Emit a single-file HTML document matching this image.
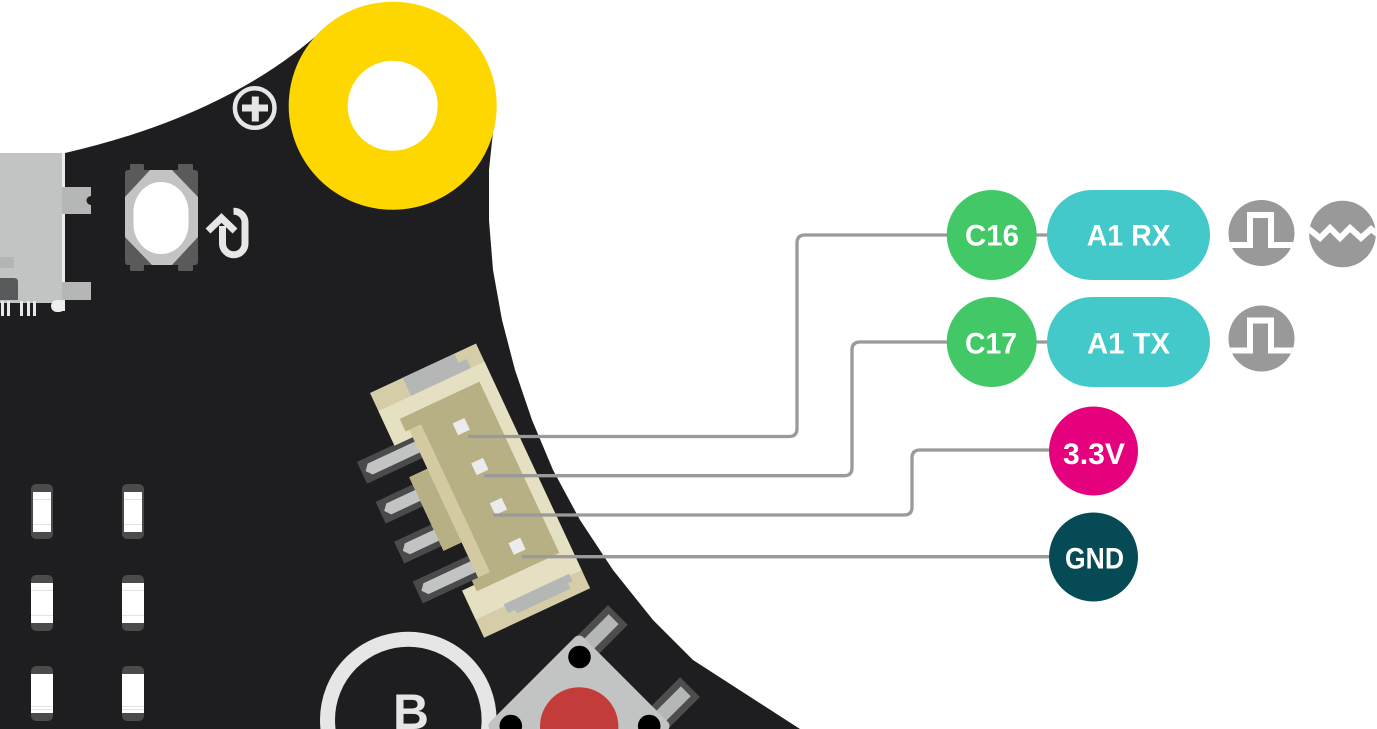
<!DOCTYPE html>
<html><head><meta charset="utf-8"><style>
html,body{margin:0;padding:0;background:#fff;width:1377px;height:729px;overflow:hidden;}
svg{display:block;overflow:hidden;}
text{font-family:"Liberation Sans Narrow","Liberation Sans",sans-serif;font-weight:bold;fill:#fff;}
</style></head><body>
<svg width="1377" height="729" viewBox="0 0 1377 729" xmlns="http://www.w3.org/2000/svg">
<defs>
<clipPath id="page"><rect x="0" y="0" width="1377" height="729"/></clipPath>
<clipPath id="sq1"><circle cx="1261.5" cy="233" r="33"/></clipPath>
<clipPath id="sq2"><circle cx="1261.5" cy="338.5" r="33"/></clipPath>
<clipPath id="wv"><circle cx="1342.5" cy="234" r="33.3"/></clipPath>
</defs>
<g clip-path="url(#page)">
<rect width="1377" height="729" fill="#fff"/>
<!-- board -->
<path d="M0,165 L65,153 Q230,115 325,28 L400,10 L470,45 L493,132 L489,170 L489,220 L493,270 L502,320 L515,370 L532,420 L553,470 L580,520 L613,570 L653,620 L693,660 L755,700 L800,729 L0,729 Z" fill="#1e1e20"/>
<circle cx="392.7" cy="105.8" r="104" fill="#fed700"/>
<circle cx="392.7" cy="105.8" r="45" fill="#fff"/>
<!-- plus icon -->
<circle cx="254.7" cy="108" r="19.8" fill="none" stroke="#e6e6e6" stroke-width="4.5"/>
<rect x="242" y="104.5" width="26" height="7" fill="#e6e6e6"/>
<rect x="251.8" y="96.5" width="7" height="25" fill="#e6e6e6"/>
<!-- USB connector -->
<rect x="62" y="153" width="3" height="158" fill="#ececec"/>
<rect x="0" y="153" width="62" height="150" fill="#c2c4c4"/>
<path d="M62,187 H91 V196 A4.5,4.5 0 0 0 91,205 V214 H62 Z" fill="#b5b6b6"/>
<rect x="62" y="282" width="29" height="18" fill="#b5b6b6"/>
<rect x="0" y="257" width="14" height="11" fill="#b3b4b4"/>
<path d="M0,278 H14 Q18,278 18,282 V300 H0 Z" fill="#58595a"/>
<rect x="1" y="301" width="3" height="15" fill="#e8e8e8"/>
<rect x="7" y="301" width="3" height="15" fill="#e8e8e8"/>
<rect x="20" y="301" width="3" height="15" fill="#e8e8e8"/>
<rect x="27" y="301" width="3" height="15" fill="#e8e8e8"/>
<rect x="33" y="301" width="3" height="15" fill="#e8e8e8"/>
<rect x="51" y="300" width="14" height="12" rx="6" fill="#eeeeee"/>
<!-- reset button -->
<rect x="130" y="164" width="14" height="9" rx="1.5" fill="#5a5a5b"/>
<rect x="178" y="164" width="15" height="9" rx="1.5" fill="#5a5a5b"/>
<rect x="130" y="262" width="14" height="9" rx="1.5" fill="#5a5a5b"/>
<rect x="178" y="262" width="15" height="9" rx="1.5" fill="#5a5a5b"/>
<rect x="125" y="170" width="73" height="95" rx="3" fill="#5a5a5b"/>
<polygon points="150,170 172,170 198,197 198,237 172,265 152,265 125,237 125,197" fill="#c2c4c4"/>
<rect x="133.5" y="182" width="55" height="72" rx="27.5" ry="30" fill="#fff"/>
<!-- reset icon -->
<path d="M222.5,226 V243.5 A11.25,11.25 0 0 0 245,243.5 V222.5 A11.25,11.25 0 0 0 233.5,211.2" fill="none" stroke="#e6e6e6" stroke-width="7"/>
<polyline points="208,231 221.5,218 235,231" fill="none" stroke="#e6e6e6" stroke-width="7"/>
<!-- LEDs -->
<g fill="#4b4b4c">
<rect x="31" y="484" width="22" height="55" rx="5"/>
<rect x="122" y="484" width="22" height="55" rx="5"/>
<rect x="31" y="575" width="22" height="56" rx="5"/>
<rect x="122" y="575" width="22" height="56" rx="5"/>
<rect x="31" y="666" width="22" height="55" rx="5"/>
<rect x="122" y="666" width="22" height="55" rx="5"/>
</g>
<g fill="#fff">
<rect x="33" y="492" width="18" height="40"/>
<rect x="124" y="492" width="18" height="40"/>
<rect x="31" y="583" width="22" height="40"/>
<rect x="122" y="583" width="22" height="40"/>
<rect x="31" y="674" width="22" height="39"/>
<rect x="122" y="674" width="22" height="39"/>
</g>
<g fill="#e2e2e2">
<rect x="33" y="499" width="18" height="1"/><rect x="33" y="524" width="18" height="1"/>
<rect x="124" y="499" width="18" height="1"/><rect x="124" y="524" width="18" height="1"/>
<rect x="31" y="590" width="22" height="1"/><rect x="31" y="615" width="22" height="1"/>
<rect x="122" y="590" width="22" height="1"/><rect x="122" y="615" width="22" height="1"/>
<rect x="31" y="706" width="22" height="1"/><rect x="31" y="709" width="22" height="1"/>
<rect x="122" y="706" width="22" height="1"/><rect x="122" y="709" width="22" height="1"/>
</g>
<!-- B button -->
<circle cx="408.3" cy="720" r="80.8" fill="none" stroke="#e6e6e6" stroke-width="15"/>
<text x="411" y="729" font-size="50" text-anchor="middle" textLength="36" lengthAdjust="spacingAndGlyphs" style="fill:#e6e6e6">B</text>
<!-- red button -->
<g transform="translate(579,726) rotate(45)">
<rect x="-65" y="-106" width="28" height="50" fill="#4d4d4e"/>
<rect x="-58" y="-100" width="14" height="44" fill="#b5b6b6"/>
<rect x="37" y="-106" width="28" height="50" fill="#4d4d4e"/>
<rect x="44" y="-100" width="14" height="44" fill="#b5b6b6"/>
<rect x="-65.75" y="-65.75" width="131.5" height="131.5" rx="6" fill="#c2c4c4"/>
</g>
<circle cx="579.2" cy="726.5" r="39.2" fill="#c43c3a"/>
<circle cx="579.5" cy="657" r="11.3" fill="#000"/>
<circle cx="510.8" cy="726" r="11.3" fill="#000"/>
<circle cx="649.2" cy="726" r="11.3" fill="#000"/>
<!-- JST connector -->
<g transform="translate(370,393) rotate(-25)">
<g>
<rect x="-41" y="57" width="63" height="24" fill="#4a4a4c"/>
<path d="M-37,69 L-32,63 H22 V75 H-32 Z" fill="#c2c4c4"/>
<rect x="-41" y="101" width="63" height="24" fill="#4a4a4c"/>
<path d="M-37,113 L-32,107 H22 V119 H-32 Z" fill="#c2c4c4"/>
<rect x="-41" y="145" width="63" height="24" fill="#4a4a4c"/>
<path d="M-37,157 L-32,151 H22 V163 H-32 Z" fill="#c2c4c4"/>
<rect x="-41" y="189" width="63" height="24" fill="#4a4a4c"/>
<path d="M-37,201 L-32,195 H22 V207 H-32 Z" fill="#c2c4c4"/>
</g>
<path d="M0,0 H117 V270 H0 V218 H20 V174 H0 V93 H21 V58 H0 Z" fill="#d5cda7"/>
<path d="M0,20 H117 V250 H0 V218 H20 V174 H0 V93 H21 V58 H0 Z" fill="#e6e0c2"/>
<rect x="20" y="50" width="13" height="168" fill="#d3caa2"/>
<polygon points="16,36 104,36 104,225 13,225 13,213 33,213 33,50 16,50" fill="#b8b085"/>
<rect x="0" y="93" width="20" height="81" fill="#b8b085"/>
<polygon points="36,0 93,0 93,10 102,10 102,20 36,20" fill="#b5b7b6"/>
<polygon points="32,248 104,248 104,256 99,256 99,262 40,262 40,258 32,258" fill="#b5b7b6"/>
<g fill="#ebebeb">
<rect x="62" y="62.5" width="13" height="13"/>
<rect x="62" y="106.5" width="13" height="13"/>
<rect x="62" y="150.5" width="13" height="13"/>
<rect x="62" y="194.5" width="13" height="13"/>
</g>
</g>
<!-- wires -->
<g fill="none" stroke="#9a9a9a" stroke-width="3.3">
<path d="M468,436.5 H789 Q797,436.5 797,428.5 V243 Q797,235 805,235 H1130"/>
<path d="M484,475.7 H844 Q852,475.7 852,467.7 V350 Q852,342 860,342 H1130"/>
<path d="M493,515 H904 Q912,515 912,507 V458 Q912,450 920,450 H1093"/>
<path d="M521.7,556.7 H1093"/>
</g>
<!-- labels -->
<circle cx="991.7" cy="235" r="45" fill="#42c866"/>
<rect x="1047" y="190" width="163" height="90" rx="45" fill="#43c9c9"/>
<circle cx="991.7" cy="342" r="45" fill="#42c866"/>
<rect x="1047" y="297" width="163" height="90" rx="45" fill="#43c9c9"/>
<circle cx="1093.5" cy="451" r="44.5" fill="#e5007d"/>
<circle cx="1093.5" cy="557" r="44.5" fill="#054a55"/>
<text x="992" y="245.5" font-size="30" text-anchor="middle" textLength="54" lengthAdjust="spacingAndGlyphs">C16</text>
<text x="1128.7" y="245.5" font-size="30" text-anchor="middle" textLength="84" lengthAdjust="spacingAndGlyphs">A1 RX</text>
<text x="991" y="353.3" font-size="30" text-anchor="middle" textLength="52" lengthAdjust="spacingAndGlyphs">C17</text>
<text x="1128.5" y="353.3" font-size="30" text-anchor="middle" textLength="83" lengthAdjust="spacingAndGlyphs">A1 TX</text>
<text x="1094" y="464" font-size="30" text-anchor="middle" textLength="62" lengthAdjust="spacingAndGlyphs">3.3V</text>
<text x="1094.5" y="568.5" font-size="30" text-anchor="middle" textLength="59" lengthAdjust="spacingAndGlyphs">GND</text>
<!-- signal icons -->
<circle cx="1261.5" cy="233" r="33" fill="#999"/>
<path clip-path="url(#sq1)" d="M1228,245 H1250 V215 H1271 V245 H1296" fill="none" stroke="#fff" stroke-width="6"/>
<circle cx="1261.5" cy="338.5" r="33" fill="#999"/>
<path clip-path="url(#sq2)" d="M1228,350.5 H1250 V320.5 H1271 V350.5 H1296" fill="none" stroke="#fff" stroke-width="6"/>
<circle cx="1342.5" cy="234" r="33.3" fill="#999"/>
<polyline clip-path="url(#wv)" points="1305,226 1320,238 1330,228 1340,238 1350,228 1361,238 1371,229 1380,236" fill="none" stroke="#fff" stroke-width="6"/>
</g>
</svg>
</body></html>
